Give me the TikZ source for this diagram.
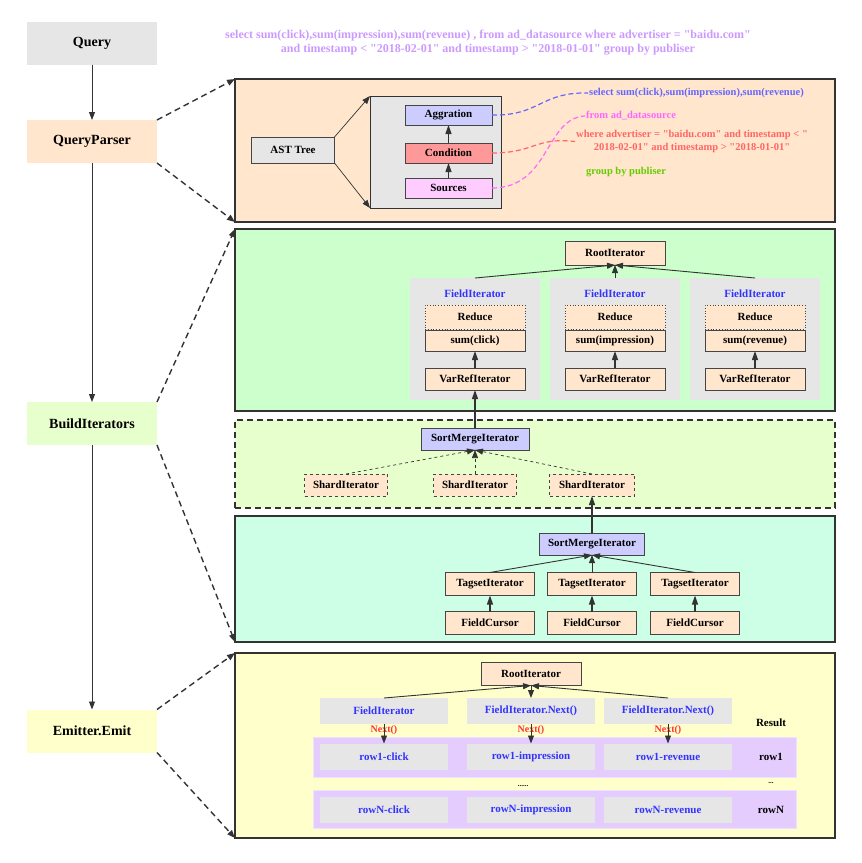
\documentclass[tikz,border=0pt]{standalone}
\usepackage{fontspec}
\setmainfont{Liberation Serif}[Ligatures=TeXOff]
\usetikzlibrary{arrows.meta}
\definecolor{qgray}{HTML}{E6E6E6}
\definecolor{peach}{HTML}{FFE6CC}
\definecolor{limep}{HTML}{E6FFCC}
\definecolor{greenp}{HTML}{CCFFCC}
\definecolor{mintp}{HTML}{CCFFE6}
\definecolor{yellowp}{HTML}{FFFFCC}
\definecolor{lavender}{HTML}{CCCCFF}
\definecolor{condred}{HTML}{FF9999}
\definecolor{srcpink}{HTML}{FFCCFF}
\definecolor{rowp}{HTML}{E5CCFF}
\definecolor{rowedge}{HTML}{EEE0FF}
\definecolor{fblue}{HTML}{3333FF}
\definecolor{nred}{HTML}{FF3333}
\definecolor{qtext}{HTML}{CC99FF}
\definecolor{selblue}{HTML}{6666FF}
\definecolor{frompink}{HTML}{FF66FF}
\definecolor{wherered}{HTML}{FF6666}
\definecolor{groupgreen}{HTML}{66CC00}
\definecolor{edge}{HTML}{333333}
\definecolor{boxedge}{HTML}{454545}
\begin{document}
\begin{tikzpicture}[x=1pt,y=-1pt]
\tikzset{txt/.style={font=\fontsize{11}{13}\selectfont\bfseries},
  stage/.style={font=\fontsize{14}{16}\selectfont\bfseries, minimum width=130, minimum height=43, inner sep=0, outer sep=0},
  panel/.style={draw=edge, line width=1.3pt, inner sep=0, outer sep=0, minimum width=600},
  ibox/.style={txt, draw=boxedge, line width=0.8pt, fill=peach, minimum height=22, inner sep=0, outer sep=0},
  grp/.style={fill=qgray, inner sep=0, outer sep=0},
  arr/.style={draw=edge, line width=0.9pt, -{Triangle[length=8pt,width=6pt]}},
  darr/.style={arr, line width=1.4pt, dash pattern=on 6pt off 4pt},
  uarr/.style={draw=edge, line width=1.2pt, -{Triangle[length=9pt,width=6pt]}},
  curvy/.style={line width=1.2pt, dash pattern=on 5pt off 3pt},
  nxt/.style={txt, text=nred, font=\fontsize{10}{11}\selectfont\bfseries, inner sep=0}}
\useasboundingbox (0,0) rectangle (862,863);
\node[stage, fill=qgray] (Q) at (92,43) {Query};
\node[stage, fill=peach] (QP) at (92,141.5) {QueryParser};
\node[stage, fill=limep] (BI) at (92,423.5) {BuildIterators};
\node[stage, fill=yellowp] (EE) at (92,731) {Emitter.Emit};
\draw[arr] (Q) -- (QP);
\draw[arr] (QP) -- (BI);
\draw[arr] (BI) -- (EE);
\node[txt, font=\fontsize{12}{14}\selectfont\bfseries, text=qtext, align=center] (SQL) at (488,43) {select sum(click),sum(impression),sum(revenue) , from ad\_datasource where advertiser = "baidu.com"\\ and timestamp < "2018-02-01" and timestamp > "2018-01-01" group by publiser};
\node[panel, fill=peach, minimum height=143] (P1) at (535,150.5) {};
\node[panel, fill=greenp, minimum height=182] (P2) at (535,320) {};
\node[panel, fill=limep, dashed, dash pattern=on 6pt off 4pt, minimum height=88] (P3) at (535,464) {};
\node[panel, fill=mintp, minimum height=126] (P4) at (535,579) {};
\node[panel, fill=yellowp, minimum height=185] (P5) at (535,745.5) {};
\draw[darr] (QP.north east) -- (P1.north west);
\draw[darr] (QP.south east) -- (P1.south west);
\draw[darr] (BI.north east) -- (P2.north west);
\draw[darr] (BI.south east) -- (P4.south west);
\draw[darr] (EE.north east) -- (P5.north west);
\draw[darr] (EE.south east) -- (P5.south west);
\node[ibox, fill=qgray, minimum width=83, minimum height=26] (AST) at (293,150) {AST Tree};
\node[draw=edge, line width=1pt, fill=qgray, minimum width=131, minimum height=112, inner sep=0, outer sep=0] (AC) at (435.5,152) {};
\node[ibox, fill=lavender, minimum width=87, minimum height=20] (AG) at (448.5,115) {Aggration};
\node[ibox, fill=condred, minimum width=87, minimum height=20] (CD) at (448.5,153) {Condition};
\node[ibox, fill=srcpink, minimum width=87, minimum height=20] (SR) at (448.5,188) {Sources};
\draw[arr, line width=0.7pt] (AST.north east) -- (AC.north west);
\draw[arr, line width=0.7pt] (AST.south east) -- (AC.south west);
\draw[uarr] (SR) -- (CD);
\draw[uarr] (CD) -- (AG);
\node[txt, font=\fontsize{10.5}{13}\selectfont\bfseries, text=selblue, anchor=west, inner sep=1] (TS) at (588,93) {select sum(click),sum(impression),sum(revenue)};
\node[txt, font=\fontsize{10.5}{13}\selectfont\bfseries, text=frompink, anchor=west, inner sep=1] (TF) at (585,116) {from ad\_datasource};
\node[txt, font=\fontsize{10.5}{13}\selectfont\bfseries, text=wherered, align=center, anchor=west, inner sep=1] (TW) at (575,141.5) {where advertiser = "baidu.com" and timestamp < "\\ 2018-02-01" and timestamp > "2018-01-01"};
\node[txt, font=\fontsize{10.5}{13}\selectfont\bfseries, text=groupgreen, anchor=west, inner sep=1] (TG) at (585,172) {group by publiser};
\draw[curvy, selblue] (AG.east) .. controls (540,116) and (540,92) .. (TS.west);
\draw[curvy, wherered] (CD.east) .. controls (535,153) and (535,137) .. (TW.west);
\draw[curvy, frompink] (SR.east) .. controls (550,188) and (545,118) .. (TF.west);
\node[ibox, minimum width=100, minimum height=24] (R1) at (615,253) {RootIterator};
\node[grp, minimum width=130, minimum height=122] (F1) at (475,339) {};
\node[grp, minimum width=130, minimum height=122] (F2) at (615,339) {};
\node[grp, minimum width=130, minimum height=122] (F3) at (755,339) {};
\node[txt, text=fblue] (F1t) at (475,294) {FieldIterator};
\node[txt, text=fblue] (F2t) at (615,294) {FieldIterator};
\node[txt, text=fblue] (F3t) at (755,294) {FieldIterator};
\node[ibox, dotted, minimum width=100, minimum height=24] (D1) at (475,317) {Reduce};
\node[ibox, dotted, minimum width=100, minimum height=24] (D2) at (615,317) {Reduce};
\node[ibox, dotted, minimum width=100, minimum height=24] (D3) at (755,317) {Reduce};
\node[ibox, minimum width=100, minimum height=21] (S1) at (475,340.5) {sum(click)};
\node[ibox, minimum width=100, minimum height=21] (S2) at (615,340.5) {sum(impression)};
\node[ibox, minimum width=100, minimum height=21] (S3) at (755,340.5) {sum(revenue)};
\node[ibox, minimum width=100] (V1) at (475,379) {VarRefIterator};
\node[ibox, minimum width=100] (V2) at (615,379) {VarRefIterator};
\node[ibox, minimum width=100] (V3) at (755,379) {VarRefIterator};
\draw[uarr] (V1) -- (S1);
\draw[uarr] (V2) -- (S2);
\draw[uarr] (V3) -- (S3);
\draw[arr] (F1.north) -- (R1.south);
\draw[arr] (F2.north) -- (R1.south);
\draw[arr] (F3.north) -- (R1.south);
\node[ibox, fill=lavender, minimum width=108] (M1) at (475,439) {SortMergeIterator};
\node[ibox, dashed, minimum width=83] (H1) at (346,485) {ShardIterator};
\node[ibox, dashed, minimum width=83] (H2) at (475,485) {ShardIterator};
\node[ibox, dashed, minimum width=85] (H3) at (592,485) {ShardIterator};
\draw[arr, line width=0.7pt, dashed] (H1.north) -- (M1.south);
\draw[arr, line width=0.7pt, dashed] (H2.north) -- (M1.south);
\draw[arr, line width=0.7pt, dashed] (H3.north) -- (M1.south);
\draw[uarr] (M1) -- (V1);
\node[ibox, fill=lavender, minimum width=105] (M2) at (592,544) {SortMergeIterator};
\draw[uarr] (M2) -- (H3);
\node[ibox, minimum width=89, minimum height=23] (T1) at (490,584) {TagsetIterator};
\node[ibox, minimum width=89, minimum height=23] (T2) at (592,584) {TagsetIterator};
\node[ibox, minimum width=89, minimum height=23] (T3) at (695,584) {TagsetIterator};
\node[ibox, minimum width=89, minimum height=23] (C1) at (490,623) {FieldCursor};
\node[ibox, minimum width=89, minimum height=23] (C2) at (592,623) {FieldCursor};
\node[ibox, minimum width=89, minimum height=23] (C3) at (695,623) {FieldCursor};
\draw[uarr] (C1) -- (T1);
\draw[uarr] (C2) -- (T2);
\draw[uarr] (C3) -- (T3);
\draw[arr] (T1.north) -- (M2.south);
\draw[arr] (T2.north) -- (M2.south);
\draw[arr] (T3.north) -- (M2.south);
\node[ibox, minimum width=100, minimum height=23] (R2) at (531,674) {RootIterator};
\node[grp, txt, text=fblue, minimum width=128, minimum height=26] (E1) at (384,711) {FieldIterator};
\node[grp, txt, text=fblue, minimum width=128, minimum height=26] (E2) at (531,711) {FieldIterator.Next()};
\node[grp, txt, text=fblue, minimum width=128, minimum height=26] (E3) at (668,711) {FieldIterator.Next()};
\draw[arr] (E1.north) -- (R2.south);
\draw[arr] (E3.north) -- (R2.south);
\draw[arr] (R2.south) -- (E2.north);
\node[txt] (RES) at (771,723) {Result};
\node[fill=rowp, draw=rowedge, line width=1pt, minimum width=483, minimum height=40, inner sep=0] (B1) at (554.5,757) {};
\node[fill=rowp, draw=rowedge, line width=1pt, minimum width=483, minimum height=38, inner sep=0] (BN) at (554.5,809) {};
\node[grp, txt, text=fblue, minimum width=128, minimum height=26] (G11) at (384,756.5) {row1-click};
\node[grp, txt, text=fblue, minimum width=128, minimum height=26] (G12) at (531,756.5) {row1-impression};
\node[grp, txt, text=fblue, minimum width=128, minimum height=26] (G13) at (668,756.5) {row1-revenue};
\node[txt] (L1) at (771,757) {row1};
\node[grp, txt, text=fblue, minimum width=128, minimum height=26] (GN1) at (384,810) {rowN-click};
\node[grp, txt, text=fblue, minimum width=128, minimum height=26] (GN2) at (531,810) {rowN-impression};
\node[grp, txt, text=fblue, minimum width=128, minimum height=26] (GN3) at (668,810) {rowN-revenue};
\node[txt] (LN) at (771,810) {rowN};
\node[nxt] (N1) at (384,730) {Next()};
\node[nxt] (N2) at (531,730) {Next()};
\node[nxt] (N3) at (668,730) {Next()};
\draw[arr] (E1.south) -- (G11.north);
\draw[arr] (E2.south) -- (G12.north);
\draw[arr] (E3.south) -- (G13.north);
\node[txt, font=\fontsize{7}{8}\selectfont\bfseries] (DT1) at (523,786) {......};
\node[txt, font=\fontsize{7}{8}\selectfont\bfseries] (DT2) at (771,783) {...};
\end{tikzpicture}
\end{document}
